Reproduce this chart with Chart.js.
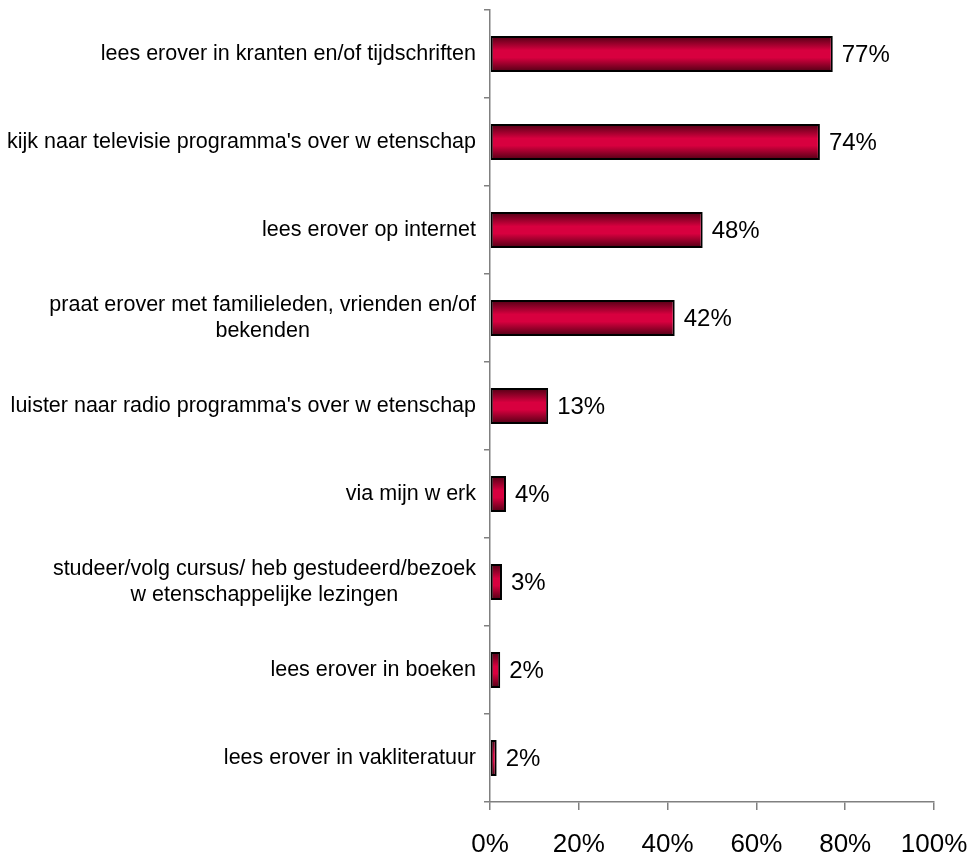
<!DOCTYPE html>
<html>
<head>
<meta charset="utf-8">
<script src="https://cdn.jsdelivr.net/npm/chart.js@4"></script>
<style>
  html, body { margin: 0; padding: 0; background: #fff; }
  #wrap { width: 973px; height: 854px; }
</style>
</head>
<body>
<div id="wrap"><canvas id="bronChart"></canvas></div>
<script>
const categories = [
    ['lees erover in kranten en/of tijdschriften'],
    ["kijk naar televisie programma's over w etenschap"],
    ['lees erover op internet'],
    ['praat erover met familieleden, vrienden en/of', 'bekenden'],
    ["luister naar radio programma's over w etenschap"],
    ['via mijn w erk'],
    ['studeer/volg cursus/ heb gestudeerd/bezoek', 'w etenschappelijke lezingen'],
    ['lees erover in boeken'],
    ['lees erover in vakliteratuur']
];
const percentages = [77.2, 74.3, 47.9, 41.6, 13.1, 3.6, 2.7, 2.3, 1.5];
const valueLabels = ['77%', '74%', '48%', '42%', '13%', '4%', '3%', '2%', '2%'];
const xTicks = [0, 20, 40, 60, 80, 100];

const FONT = '"Liberation Sans", Arial, sans-serif';

// cylinder-like shading across the bar thickness
function barFill(context) {
    const chart = context.chart;
    const y = chart.scales.y;
    if (!chart.chartArea || !y) return '#c8003a';
    const c = y.getPixelForValue(context.dataIndex);
    const half = (y.height / categories.length) * 0.41 / 2;
    const g = chart.ctx.createLinearGradient(0, c - half, 0, c + half);
    g.addColorStop(0, '#4e0014');
    g.addColorStop(0.4, '#d8003f');
    g.addColorStop(0.6, '#d8003f');
    g.addColorStop(1, '#4e0014');
    return g;
}

const labelPlugin = {
    id: 'labelPlugin',
    afterDraw(chart) {
        const ctx = chart.ctx;
        const y = chart.scales.y;
        ctx.save();
        // category labels: block right-aligned, lines centred in the block
        ctx.font = '21.5px ' + FONT;
        ctx.fillStyle = '#000';
        ctx.textAlign = 'center';
        ctx.textBaseline = 'middle';
        const lineH = 26;
        categories.forEach((lines, i) => {
            const cy = y.getPixelForTick(i);
            const w = Math.max(...lines.map(l => ctx.measureText(l).width));
            const cx = chart.chartArea.left - 14 - w / 2;
            lines.forEach((l, k) => {
                ctx.fillText(l, cx, cy + (k - (lines.length - 1) / 2) * lineH);
            });
        });
        // value labels at the bar ends
        ctx.font = '24px ' + FONT;
        ctx.textAlign = 'left';
        const meta = chart.getDatasetMeta(0);
        meta.data.forEach((bar, i) => {
            ctx.fillText(valueLabels[i], bar.x + 9, bar.y + 1);
        });
        ctx.restore();
    }
};

new Chart(document.getElementById('bronChart'), {
    type: 'bar',
    data: {
        labels: categories,
        datasets: [{
            data: percentages,
            backgroundColor: barFill,
            borderColor: '#000',
            borderWidth: 2,
            borderSkipped: false,
            barPercentage: 0.41,
            categoryPercentage: 1
        }]
    },
    options: {
        indexAxis: 'y',
        responsive: true,
        maintainAspectRatio: false,
        animation: false,
        layout: { padding: { top: 10, right: 39, left: 0, bottom: 0 } },
        plugins: {
            legend: { display: false },
            tooltip: { enabled: false }
        },
        scales: {
            x: {
                min: 0,
                max: 100,
                afterBuildTicks: (s) => { s.ticks = xTicks.map(v => ({ value: v })); },
                afterFit: (s) => { s.height = 52; s.paddingLeft = 0; s.paddingRight = 0; },
                border: { color: '#808080', width: 1.5 },
                grid: { drawOnChartArea: false, tickLength: 8, color: '#808080', lineWidth: 1.5 },
                ticks: {
                    padding: 19,
                    color: '#000',
                    font: { family: FONT, size: 26 },
                    maxRotation: 0,
                    callback: (v) => v + '%'
                }
            },
            y: {
                afterFit: (s) => { s.width = 490; s.paddingTop = 0; s.paddingBottom = 0; },
                border: { color: '#808080', width: 1.5 },
                grid: { drawOnChartArea: false, tickLength: 6, color: '#808080', lineWidth: 1.5, offset: true },
                ticks: { display: false }
            }
        }
    },
    plugins: [labelPlugin]
});
</script>
</body>
</html>
